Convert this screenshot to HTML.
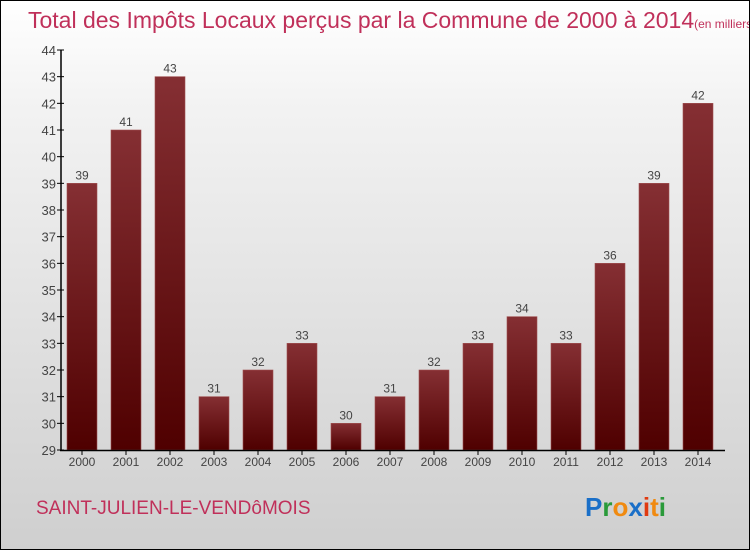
<!DOCTYPE html>
<html><head><meta charset="utf-8"><style>
body{margin:0}
#c{position:relative;width:750px;height:550px;box-sizing:border-box;border:1px solid #000;background:linear-gradient(#fff,#f2f2f2 20%,#cfcfcf);font-family:"Liberation Sans",sans-serif;overflow:hidden}
</style></head><body>
<div id="c">
<svg id="s" width="750" height="550" style="position:absolute;left:-1px;top:-1px">
<defs><linearGradient id="g" x1="0" y1="0" x2="0" y2="1"><stop offset="0" stop-color="#852f33"/><stop offset="1" stop-color="#4f0000"/></linearGradient></defs>
<text x="28" y="28" font-size="23" fill="#c0305a">Total des Impôts Locaux perçus par la Commune de 2000 à 2014<tspan font-size="12">(en milliers d'€)</tspan></text>
<text x="36" y="514" font-size="19" fill="#c0305a">SAINT-JULIEN-LE-VENDôMOIS</text>
<text x="585" y="516" font-size="26" font-weight="bold"><tspan fill="#1a6fc8">P</tspan><tspan fill="#2a9a3a">r</tspan><tspan fill="#f08a10">o</tspan><tspan fill="#1a6fc8">x</tspan><tspan fill="#e03a10">i</tspan><tspan fill="#f08a10">t</tspan><tspan fill="#2a9a3a">i</tspan></text>
</svg>
</div>
<script>
const years=["2000","2001","2002","2003","2004","2005","2006","2007","2008","2009","2010","2011","2012","2013","2014"];
const values=[39,41,43,31,32,33,30,31,32,33,34,33,36,39,42];
const yTicks=[29,30,31,32,33,34,35,36,37,38,39,40,41,42,43,44];
const s=document.getElementById('s');const NS='http://www.w3.org/2000/svg';
const y=v=>450-(v-29)*400/15, x=i=>82+i*44;
function mk(t,a){const e=document.createElementNS(NS,t);for(const k in a)e.setAttribute(k,a[k]);s.appendChild(e);return e;}
yTicks.forEach(v=>{
const l=mk('line',{x1:57,x2:64,y1:y(v),y2:y(v),stroke:'#000'});


const t=mk('text',{x:56,y:y(v)+5,'font-size':13,fill:'#444','text-anchor':'end'});t.textContent=v;


});
values.forEach((v,i)=>{
const r=mk('rect',{x:x(i)-15,y:y(v),width:30,height:450-y(v),fill:'url(#g)',stroke:'#a05050','stroke-width':0.6});


const t=mk('text',{x:x(i),y:y(v)-4,'font-size':12,fill:'#444','text-anchor':'middle'});t.textContent=v;


const k=mk('line',{x1:x(i),x2:x(i),y1:450,y2:455,stroke:'#000'});


const yl=mk('text',{x:x(i),y:466,'font-size':12,fill:'#444','text-anchor':'middle'});yl.textContent=years[i];


});
const ya=mk('line',{x1:61,x2:61,y1:50,y2:451,stroke:'#000','stroke-width':1.5});


const xa=mk('line',{x1:60,x2:725,y1:450.5,y2:450.5,stroke:'#000','stroke-width':1.5});


</script>
</body></html>
